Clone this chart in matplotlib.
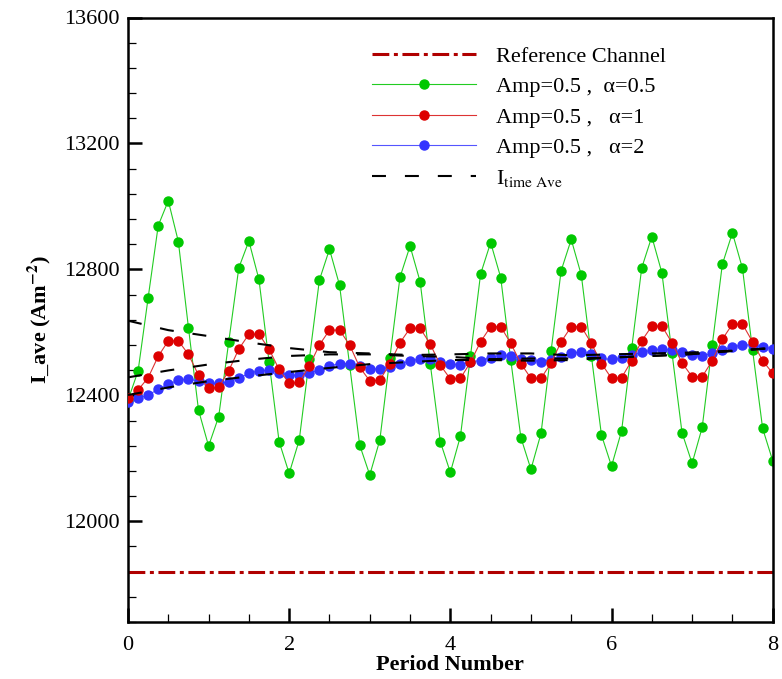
import numpy as np
import matplotlib
matplotlib.use("Agg")
import matplotlib.pyplot as plt
from matplotlib.ticker import MultipleLocator

# period number, 8 samples per period
period = np.linspace(0, 8, 65)

ref_channel = 11840

amp_a05 = [12385, 12477, 12710, 12939, 13018, 12888, 12615, 12353,
           12239, 12332, 12570, 12805, 12890, 12768, 12507, 12253,
           12152, 12258, 12515, 12766, 12864, 12750, 12496, 12242,
           12147, 12258, 12520, 12775, 12874, 12761, 12501, 12253,
           12155, 12270, 12525, 12785, 12885, 12774, 12512, 12266,
           12165, 12279, 12541, 12796, 12895, 12782, 12525, 12274,
           12175, 12287, 12549, 12805, 12904, 12789, 12535, 12281,
           12184, 12298, 12560, 12816, 12916, 12803, 12544, 12295,
           12192]

amp_a1 = [12392, 12417, 12456, 12524, 12573, 12573, 12530, 12464,
          12422, 12425, 12478, 12547, 12594, 12594, 12547, 12482,
          12438, 12441, 12493, 12560, 12607, 12607, 12560, 12489,
          12446, 12448, 12501, 12567, 12613, 12613, 12563, 12496,
          12452, 12454, 12505, 12570, 12618, 12618, 12565, 12501,
          12454, 12454, 12503, 12570, 12618, 12618, 12565, 12501,
          12454, 12456, 12510, 12573, 12620, 12620, 12567, 12503,
          12459, 12459, 12510, 12578, 12626, 12626, 12570, 12510,
          12470]

amp_a2 = [12380, 12390, 12401, 12419, 12435, 12448, 12451, 12446,
          12438, 12438, 12443, 12454, 12470, 12478, 12480, 12472,
          12464, 12464, 12472, 12480, 12493, 12501, 12501, 12493,
          12485, 12483, 12489, 12499, 12510, 12515, 12514, 12505,
          12501, 12496, 12507, 12510, 12520, 12528, 12526, 12514,
          12512, 12507, 12512, 12523, 12533, 12538, 12531, 12517,
          12514, 12517, 12528, 12536, 12544, 12546, 12544, 12536,
          12528, 12525, 12533, 12544, 12554, 12560, 12560, 12554,
          12548]

# time averaged curves, read every half period
period_ave = np.linspace(0, 8, 17)
ave_a05 = [12637, 12607, 12588, 12568, 12550, 12537, 12533, 12528, 12530,
           12533, 12533, 12527, 12530, 12533, 12536, 12542, 12550]
ave_a1 = [12457, 12479, 12498, 12513, 12525, 12530, 12530, 12525, 12522,
          12515, 12517, 12517, 12520, 12525, 12531, 12541, 12550]
ave_a2 = [12401, 12425, 12445, 12460, 12474, 12487, 12499, 12506, 12512,
          12512, 12510, 12512, 12520, 12525, 12531, 12541, 12550]

plt.rcParams['font.family'] = ['Liberation Serif', 'DejaVu Serif']
plt.rcParams['mathtext.fontset'] = 'stix'

fig = plt.figure(figsize=(7.82, 6.79), dpi=100)
ax = fig.add_axes([128/782, 1-622/679, (772.7-128)/782, (622-17.5)/679])

ax.plot([0, 8], [ref_channel, ref_channel], color='#b00000', lw=2.2,
        dashes=(5.5, 1.5, 1.3, 1.5), label='Reference Channel')
ax.plot(period, amp_a05, color='#22cc22', lw=0.8, marker='o', ms=6.5,
        mfc='#00c800', mec='#00c800', label='Amp=0.5 ,  α=0.5')
ax.plot(period, amp_a2, color='#5555ff', lw=0.8, marker='o', ms=6.5,
        mfc='#3333ff', mec='#3333ff', zorder=3)
ax.plot(period, amp_a1, color='#dd3333', lw=0.8, marker='o', ms=6.5,
        mfc='#dd0000', mec='#dd0000', label='Amp=0.5 ,   α=1', zorder=3)
# dummy handle so legend order is kept
blue_h, = ax.plot([], [], color='#5555ff', lw=0.8, marker='o', ms=6.5,
                  mfc='#3333ff', mec='#3333ff', label='Amp=0.5 ,   α=2')
for i, ave in enumerate([ave_a05, ave_a1, ave_a2]):
    ax.plot(period_ave, ave, color='black', lw=1.5, dashes=(6.7, 9.1),
            label=r'I$_{\rm time\ Ave}$' if i == 0 else None, zorder=4)

ax.set_xlim(0, 8)
ax.set_ylim(11680, 13600)
ax.xaxis.set_major_locator(MultipleLocator(2))
ax.xaxis.set_minor_locator(MultipleLocator(0.5))
ax.yaxis.set_major_locator(MultipleLocator(400))
ax.yaxis.set_minor_locator(MultipleLocator(80))
ax.tick_params(which='both', direction='in', top=False, right=False,
               labelsize=16, width=1.3, pad=6)
ax.tick_params(axis='x', which='both', pad=10)
ax.tick_params(which='major', length=10, width=1.8)
ax.tick_params(which='minor', length=6, width=0.9)
for sp in ax.spines.values():
    sp.set_linewidth(1.8)

ax.set_xlabel('Period Number', fontsize=16, fontweight='bold', labelpad=0)
ax.set_ylabel(r'I_ave (Am$^{\mathbf{-2}}$)', fontsize=16, fontweight='bold',
              labelpad=8)

ax.legend(loc='upper left', bbox_to_anchor=(372/782, 1-46/679),
          bbox_transform=fig.transFigure, frameon=False, fontsize=16,
          borderpad=0, borderaxespad=0, handlelength=4.7, handletextpad=0.9,
          labelspacing=0.45)

fig.savefig('out.png', dpi=100)
